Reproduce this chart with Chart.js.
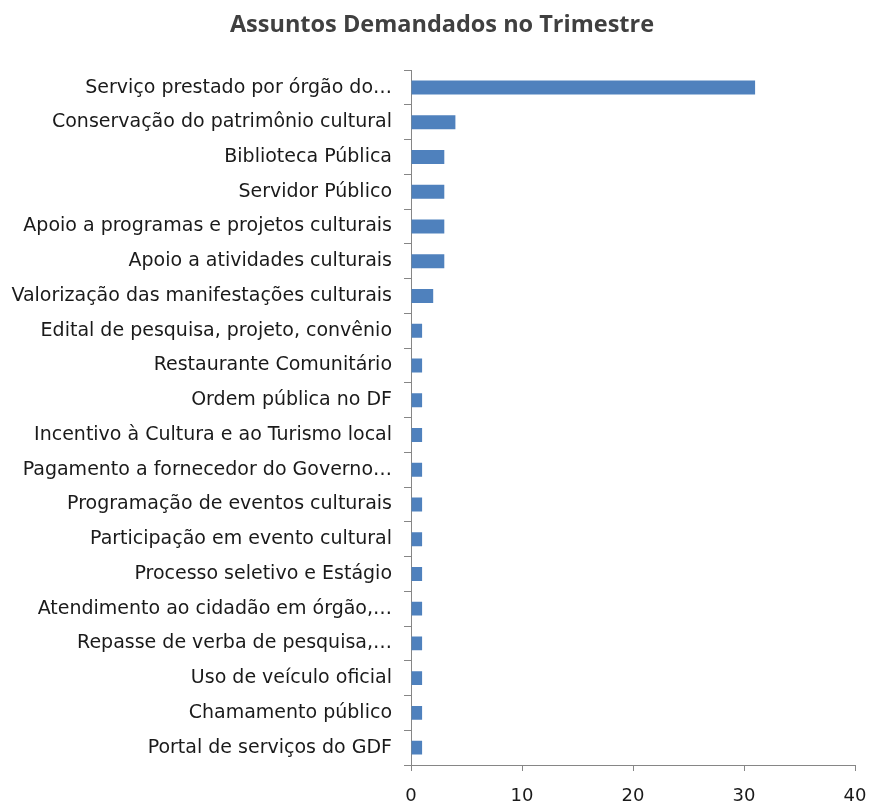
<!DOCTYPE html>
<html>
<head>
<meta charset="utf-8">
<script src="https://cdn.jsdelivr.net/npm/chart.js@4"></script>
<style>
  html, body { margin: 0; padding: 0; background: #fff; }
  #wrap { width: 872px; height: 804px; }
</style>
</head>
<body>
<div id="wrap"><canvas id="chart" width="872" height="804"></canvas></div>
<script>
const TITLE = 'Assuntos Demandados no Trimestre';

const categories = [
  'Serviço prestado por órgão do…',
  'Conservação do patrimônio cultural',
  'Biblioteca Pública',
  'Servidor Público',
  'Apoio a programas e projetos culturais',
  'Apoio a atividades culturais',
  'Valorização das manifestações culturais',
  'Edital de pesquisa, projeto, convênio',
  'Restaurante Comunitário',
  'Ordem pública no DF',
  'Incentivo à Cultura e ao Turismo local',
  'Pagamento a fornecedor do Governo…',
  'Programação de eventos culturais',
  'Participação em evento cultural',
  'Processo seletivo e Estágio',
  'Atendimento ao cidadão em órgão,…',
  'Repasse de verba de pesquisa,…',
  'Uso de veículo oficial',
  'Chamamento público',
  'Portal de serviços do GDF',
];

const values = [31, 4, 3, 3, 3, 3, 2, 1, 1, 1, 1, 1, 1, 1, 1, 1, 1, 1, 1, 1];

const xTicks = [0, 10, 20, 30, 40];

const FONT = 'DejaVu Sans';
const AXIS_GRAY = '#868686';
const TEXT = '#1a1a1a';

// the title sits a bit right of the canvas centre in the original
const titleShift = {
  id: 'titleShift',
  afterLayout: (chart) => {
    if (chart.titleBlock) {
      chart.titleBlock.left += 6;
      chart.titleBlock.right += 6;
    }
  },
};

const ctx = document.getElementById('chart').getContext('2d');
new Chart(ctx, { // eslint-disable-line no-new
  type: 'bar',
  data: {
    labels: categories,
    datasets: [
      {
        data: values,
        backgroundColor: '#4f81bd',
        borderWidth: 0,
        barPercentage: 0.4,
        categoryPercentage: 1,
      },
    ],
  },
  plugins: [titleShift],
  options: {
    indexAxis: 'y',
    responsive: false,
    animation: false,
    layout: { padding: 0 },
    plugins: {
      legend: { display: false },
      tooltip: { enabled: false },
      title: {
        display: true,
        text: TITLE,
        color: '#404040',
        font: { family: 'Open Sans', size: 23.5, weight: 'bold' },
        padding: { top: 11, bottom: 31 },
      },
    },
    scales: {
      x: {
        min: 0,
        max: 40,
        afterBuildTicks: (scale) => {
          scale.ticks = xTicks.map((v) => ({ value: v }));
        },
        border: { display: true, color: AXIS_GRAY, width: 1 },
        grid: {
          drawOnChartArea: false,
          drawTicks: true,
          tickLength: 6,
          color: AXIS_GRAY,
        },
        ticks: {
          color: TEXT,
          padding: 15,
          font: { family: FONT, size: 18 },
        },
        afterFit: (scale) => {
          scale.height = 39;
          scale.paddingLeft = 0;
          scale.paddingRight = 17;
        },
      },
      y: {
        border: { display: true, color: AXIS_GRAY, width: 1 },
        grid: {
          offset: true,
          drawOnChartArea: false,
          drawTicks: true,
          tickLength: 7,
          color: AXIS_GRAY,
        },
        ticks: {
          color: TEXT,
          padding: 12,
          autoSkip: false,
          font: { family: FONT, size: 19 },
        },
        afterFit: (scale) => { scale.width = 411; },
      },
    },
  },
});
</script>
</body>
</html>
